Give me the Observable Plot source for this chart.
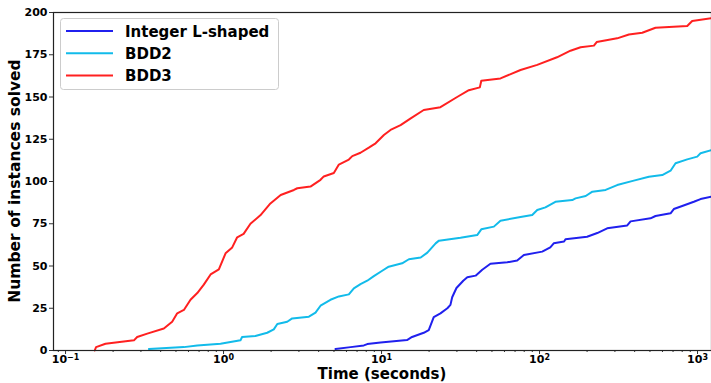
<!DOCTYPE html>
<html><head><meta charset="utf-8">
<script src="https://cdn.jsdelivr.net/npm/d3@7"></script>
<script src="https://cdn.jsdelivr.net/npm/@observablehq/plot@0.6"></script>
<style>
body{margin:0;background:#fff;}
#chart{width:711px;height:383px;}
</style></head><body><div id="chart"></div>
<script>
const seriesNames = ["Integer L-shaped", "BDD2", "BDD3"];
const seriesColors = ["#2020ee", "#12bbea", "#ff2020"];

const intTime = [5.11,6.37,7.73,8.12,9.86,14.5,15.6,18.5,19.9,21.4,23.6,26.1,27.3,28.0,29.8,32.9,34.9,39.4,43.4,48.9,62.5,72.2,79.6,104,117,123,143,146,200,232,268,359,377,504,542,675,708,800,948,1045,1226];
const intCount = [0.9,2,3,3.8,4.8,6.2,8,10.5,12.1,19.8,22,25,27,31.5,37,41.3,43.3,44.3,47.8,51.3,52.2,53.3,56.5,58.5,61,63.4,64.5,65.8,67.3,69.5,72.3,74,76.4,78.2,79.6,81.2,83.7,85.5,88,89.6,91];

const bdd2Time = [0.337,0.561,0.682,0.957,1.107,1.28,1.31,1.59,1.89,2.08,2.19,2.53,2.72,3.47,3.82,4.11,4.75,5.37,6.21,6.68,7.36,8.12,8.94,10.1,11.1,13.5,14.9,17.7,19.5,22.0,23.1,31.6,40.3,42.8,51.4,56.6,75.8,89.9,96.7,109,126,161,169,196,216,262,310,395,492,598,675,726,861,996,1045,1226];
const bdd2Count = [0.9,2,3,4,5,6,8,8.6,10.5,12.5,15.7,17,19,20,22.4,26.5,30,32,33.2,36.8,39.3,41.3,44,47.2,49.6,51.6,54,55,57.9,63.4,65,66.7,68.3,71.7,73.3,76.8,79,80.2,83.1,84.7,88,89,90,91.4,94,95,97.9,100.5,102.8,103.8,106.4,110.8,113.1,114.7,116.7,118.6];

const bdd3Time = [0.153,0.156,0.179,0.271,0.284,0.329,0.419,0.473,0.509,0.561,0.618,0.682,0.75,0.828,0.934,1.03,1.135,1.22,1.34,1.48,1.71,1.98,2.30,2.79,2.93,3.55,4.11,4.31,4.99,5.37,6.21,6.53,7.36,8.31,9.17,10.35,11.4,13.2,15.3,18.5,23.6,30.1,35.7,41.9,42.8,56.6,75.8,96.7,129,157,182,221,230,310,368,447,542,861,925,1226];
const bdd3Count = [0,2,4,6,8,10,13,17,22,24,30,34,39,45,48,57.5,61,67,69,75,80,87,92,95,96,97,101,103,105,110,113,115,117,120,122.6,127.5,130.5,133.4,137.4,142.3,144,150,154,155.7,159.6,161,166,169,173.5,177.4,179.4,180.4,182.5,184.7,187,188,191,192,195,196.6];

const yTicks = [0,25,50,75,100,125,150,175,200];
const xMajorTicks = [0.1,1,10,100,1000];
const xMajorExponents = ["\u22121","0","1","2","3"];
const xMinorTicks = [0.09,0.2,0.3,0.4,0.5,0.6,0.7,0.8,0.9,2,3,4,5,6,7,8,9,20,30,40,50,60,70,80,90,200,300,400,500,600,700,800,900];

const xLabel = "Time (seconds)";
const yLabel = "Number of instances solved";

const rows = [];
[[intTime,intCount],[bdd2Time,bdd2Count],[bdd3Time,bdd3Count]].forEach(([ts,cs],i)=>{
  ts.forEach((t,j)=>rows.push({series:seriesNames[i], t, n:cs[j]}));
});

const plot = Plot.plot({
  width: 711, height: 383,
  marginLeft: 53, marginRight: 0, marginTop: 12, marginBottom: 33,
  style: {fontFamily: "DejaVu Sans", fontWeight: "bold", fontSize: "11px", color: "#000", background: "#fff"},
  x: {type: "log", domain: [0.0839, 1226]},
  y: {domain: [0, 200]},
  color: {domain: seriesNames, range: seriesColors},
  marks: [
    Plot.axisY({ticks: yTicks, tickSize: 4, tickPadding: 2, label: null, fontSize: 11, fontWeight: "bold", stroke: "#333"}),
    Plot.axisX({ticks: xMinorTicks, tickSize: 2, tickFormat: () => "", label: null, stroke: "#333"}),
    Plot.axisX({ticks: xMajorTicks, tickSize: 4, tickPadding: 1, tickFormat: (d) => "10^" + xMajorExponents[xMajorTicks.indexOf(d)], label: null, fontSize: 11, fontWeight: "bold", stroke: "#333"}),
    Plot.line(rows, {x: "t", y: "n", z: "series", stroke: "series", strokeWidth: 2, curve: "linear"}),
    Plot.frame({stroke: "#222", strokeWidth: 1.2})
  ]
});

const svg = d3.select(plot);
// render exponents as superscripts
svg.selectAll("text").each(function() {
  const el = d3.select(this);
  const s = el.text();
  if (s.startsWith("10^")) {
    const exp = s.slice(3);
    el.text("");
    el.append("tspan").text("10");
    el.append("tspan").attr("font-size", 8).attr("dy", "-0.45em").text(exp);
  }
});

svg.append("text").attr("x", 382).attr("y", 379).attr("text-anchor", "middle")
  .attr("font-size", 15).attr("font-weight", "bold").attr("font-family", "DejaVu Sans").attr("fill", "#000").text(xLabel);
svg.append("text").attr("transform", "translate(20,181) rotate(-90)").attr("text-anchor", "middle")
  .attr("font-size", 15.5).attr("font-weight", "bold").attr("font-family", "DejaVu Sans").attr("fill", "#000").text(yLabel);

const lg = svg.append("g");
lg.append("rect").attr("x", 60.5).attr("y", 18.5).attr("width", 218).attr("height", 71).attr("rx", 3)
  .attr("fill", "#fff").attr("fill-opacity", 0.85).attr("stroke", "#ccc");
seriesNames.forEach((name, i) => {
  const y = 31 + i * 22.3;
  lg.append("line").attr("x1", 66).attr("x2", 113).attr("y1", y).attr("y2", y)
    .attr("stroke", seriesColors[i]).attr("stroke-width", 2);
  lg.append("text").attr("x", 125).attr("y", y + 5.5).attr("text-anchor", "start").attr("font-size", 15).attr("font-weight", "bold")
    .attr("font-family", "DejaVu Sans").attr("fill", "#000").text(name);
});

document.getElementById("chart").appendChild(plot);
</script></body></html>
